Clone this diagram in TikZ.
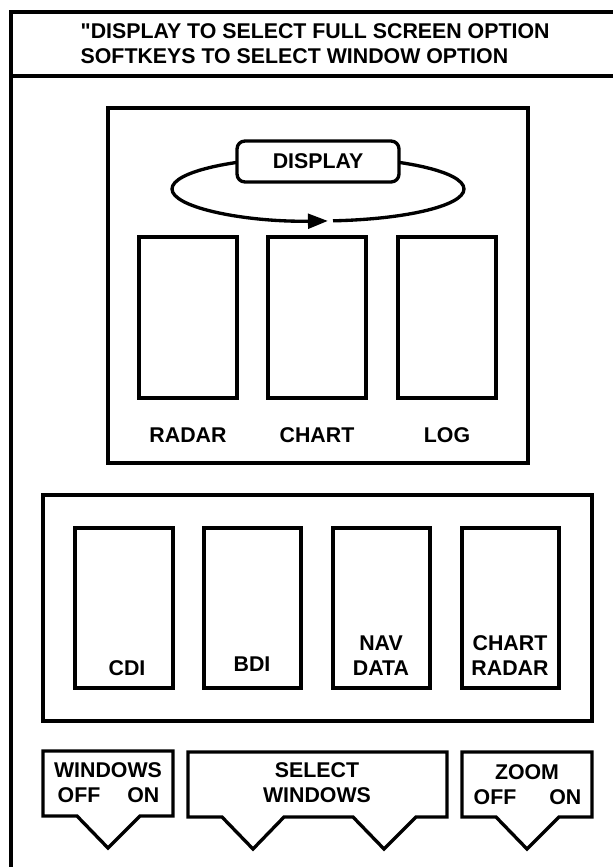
\documentclass[tikz,border=0pt]{standalone}
\usepackage{fontspec}
\newfontfamily\lsans{Liberation Sans}
\usetikzlibrary{arrows.meta}
\begin{document}
\begin{tikzpicture}[x=0.75pt,y=-0.75pt, line width=2.5pt, line join=miter,
  lbl/.style={font=\lsans\fontsize{16}{19}\selectfont\bfseries, inner sep=0pt, align=center},
  box/.style={draw, inner sep=0pt},
  rbox/.style={draw, fill=white, rounded corners=6pt, inner sep=0pt, font=\lsans\fontsize{16}{19}\selectfont\bfseries}]
\useasboundingbox (0,0) rectangle (613,867);
% outer frame and header
\draw (613,12) -- (11,12) -- (11,867);
\draw (11,76) -- (613,76);
\node[lbl, anchor=base west] (hdra) at (79,38.5) {"DISPLAY TO SELECT FULL SCREEN OPTION};
\node[lbl, anchor=base west] (hdrb) at (79,64) {SOFTKEYS TO SELECT WINDOW OPTION};
% display panel
\node[box, minimum width={420*0.75pt}, minimum height={355*0.75pt}] (panel) at (318,285.5) {};
\draw[-{Triangle[length=15pt,width=11pt]}] (318,189) ++(84.1:146 and 32) arc[start angle=84.1, end angle=-273.9, x radius=146, y radius=32];
\node[rbox, minimum width={162*0.75pt}, minimum height={41*0.75pt}] (display) at (318,161.5) {DISPLAY};
\node[box, minimum width={98*0.75pt}, minimum height={161*0.75pt}] (radarbox) at (188,317.5) {};
\node[box, minimum width={98*0.75pt}, minimum height={161*0.75pt}] (chartbox) at (317,317.5) {};
\node[box, minimum width={98*0.75pt}, minimum height={161*0.75pt}] (logbox) at (447,317.5) {};
\node[lbl] (radar) at (188,435) {RADAR};
\node[lbl] (chart) at (317,435) {CHART};
\node[lbl] (log) at (447,435) {LOG};
% window panel
\node[box, minimum width={549*0.75pt}, minimum height={226*0.75pt}] (wpanel) at (317.5,608) {};
\node[box, minimum width={98*0.75pt}, minimum height={160*0.75pt}] (cdibox) at (124,608) {};
\node[box, minimum width={97*0.75pt}, minimum height={160*0.75pt}] (bdibox) at (252.5,608) {};
\node[box, minimum width={97*0.75pt}, minimum height={160*0.75pt}] (navbox) at (381.5,608) {};
\node[box, minimum width={97*0.75pt}, minimum height={160*0.75pt}] (crbox) at (510.5,608) {};
\node[lbl] (cdi) at (127,668) {CDI};
\node[lbl] (bdi) at (252,664) {BDI};
\node[lbl] (nav) at (381,643) {NAV};
\node[lbl] (data) at (381,668) {DATA};
\node[lbl] (chart2) at (510,643) {CHART};
\node[lbl] (radar2) at (510,668) {RADAR};
% softkeys
\draw (43,751) -- (173,751) -- (173,816) -- (140,816) -- (108,848) -- (77,816) -- (43,816) -- cycle;
\node[lbl] (winkey) at (108,770) {WINDOWS};
\node[lbl, anchor=west] (winoff) at (56,795) {OFF};
\node[lbl, anchor=east] (winon) at (161,795) {ON};
\draw (188,752) -- (447,752) -- (447,817) -- (416,817) -- (384,849) -- (353,817) -- (284,817) -- (253,849) -- (222,817) -- (188,817) -- cycle;
\node[lbl] (select) at (317,770) {SELECT};
\node[lbl] (selwin) at (317,795) {WINDOWS};
\draw (462,752) -- (592,752) -- (592,817) -- (559,817) -- (527,849) -- (496,817) -- (462,817) -- cycle;
\node[lbl] (zoom) at (527,772) {ZOOM};
\node[lbl, anchor=west] (zoomoff) at (472,797) {OFF};
\node[lbl, anchor=east] (zoomon) at (583,797) {ON};
\end{tikzpicture}
\end{document}
